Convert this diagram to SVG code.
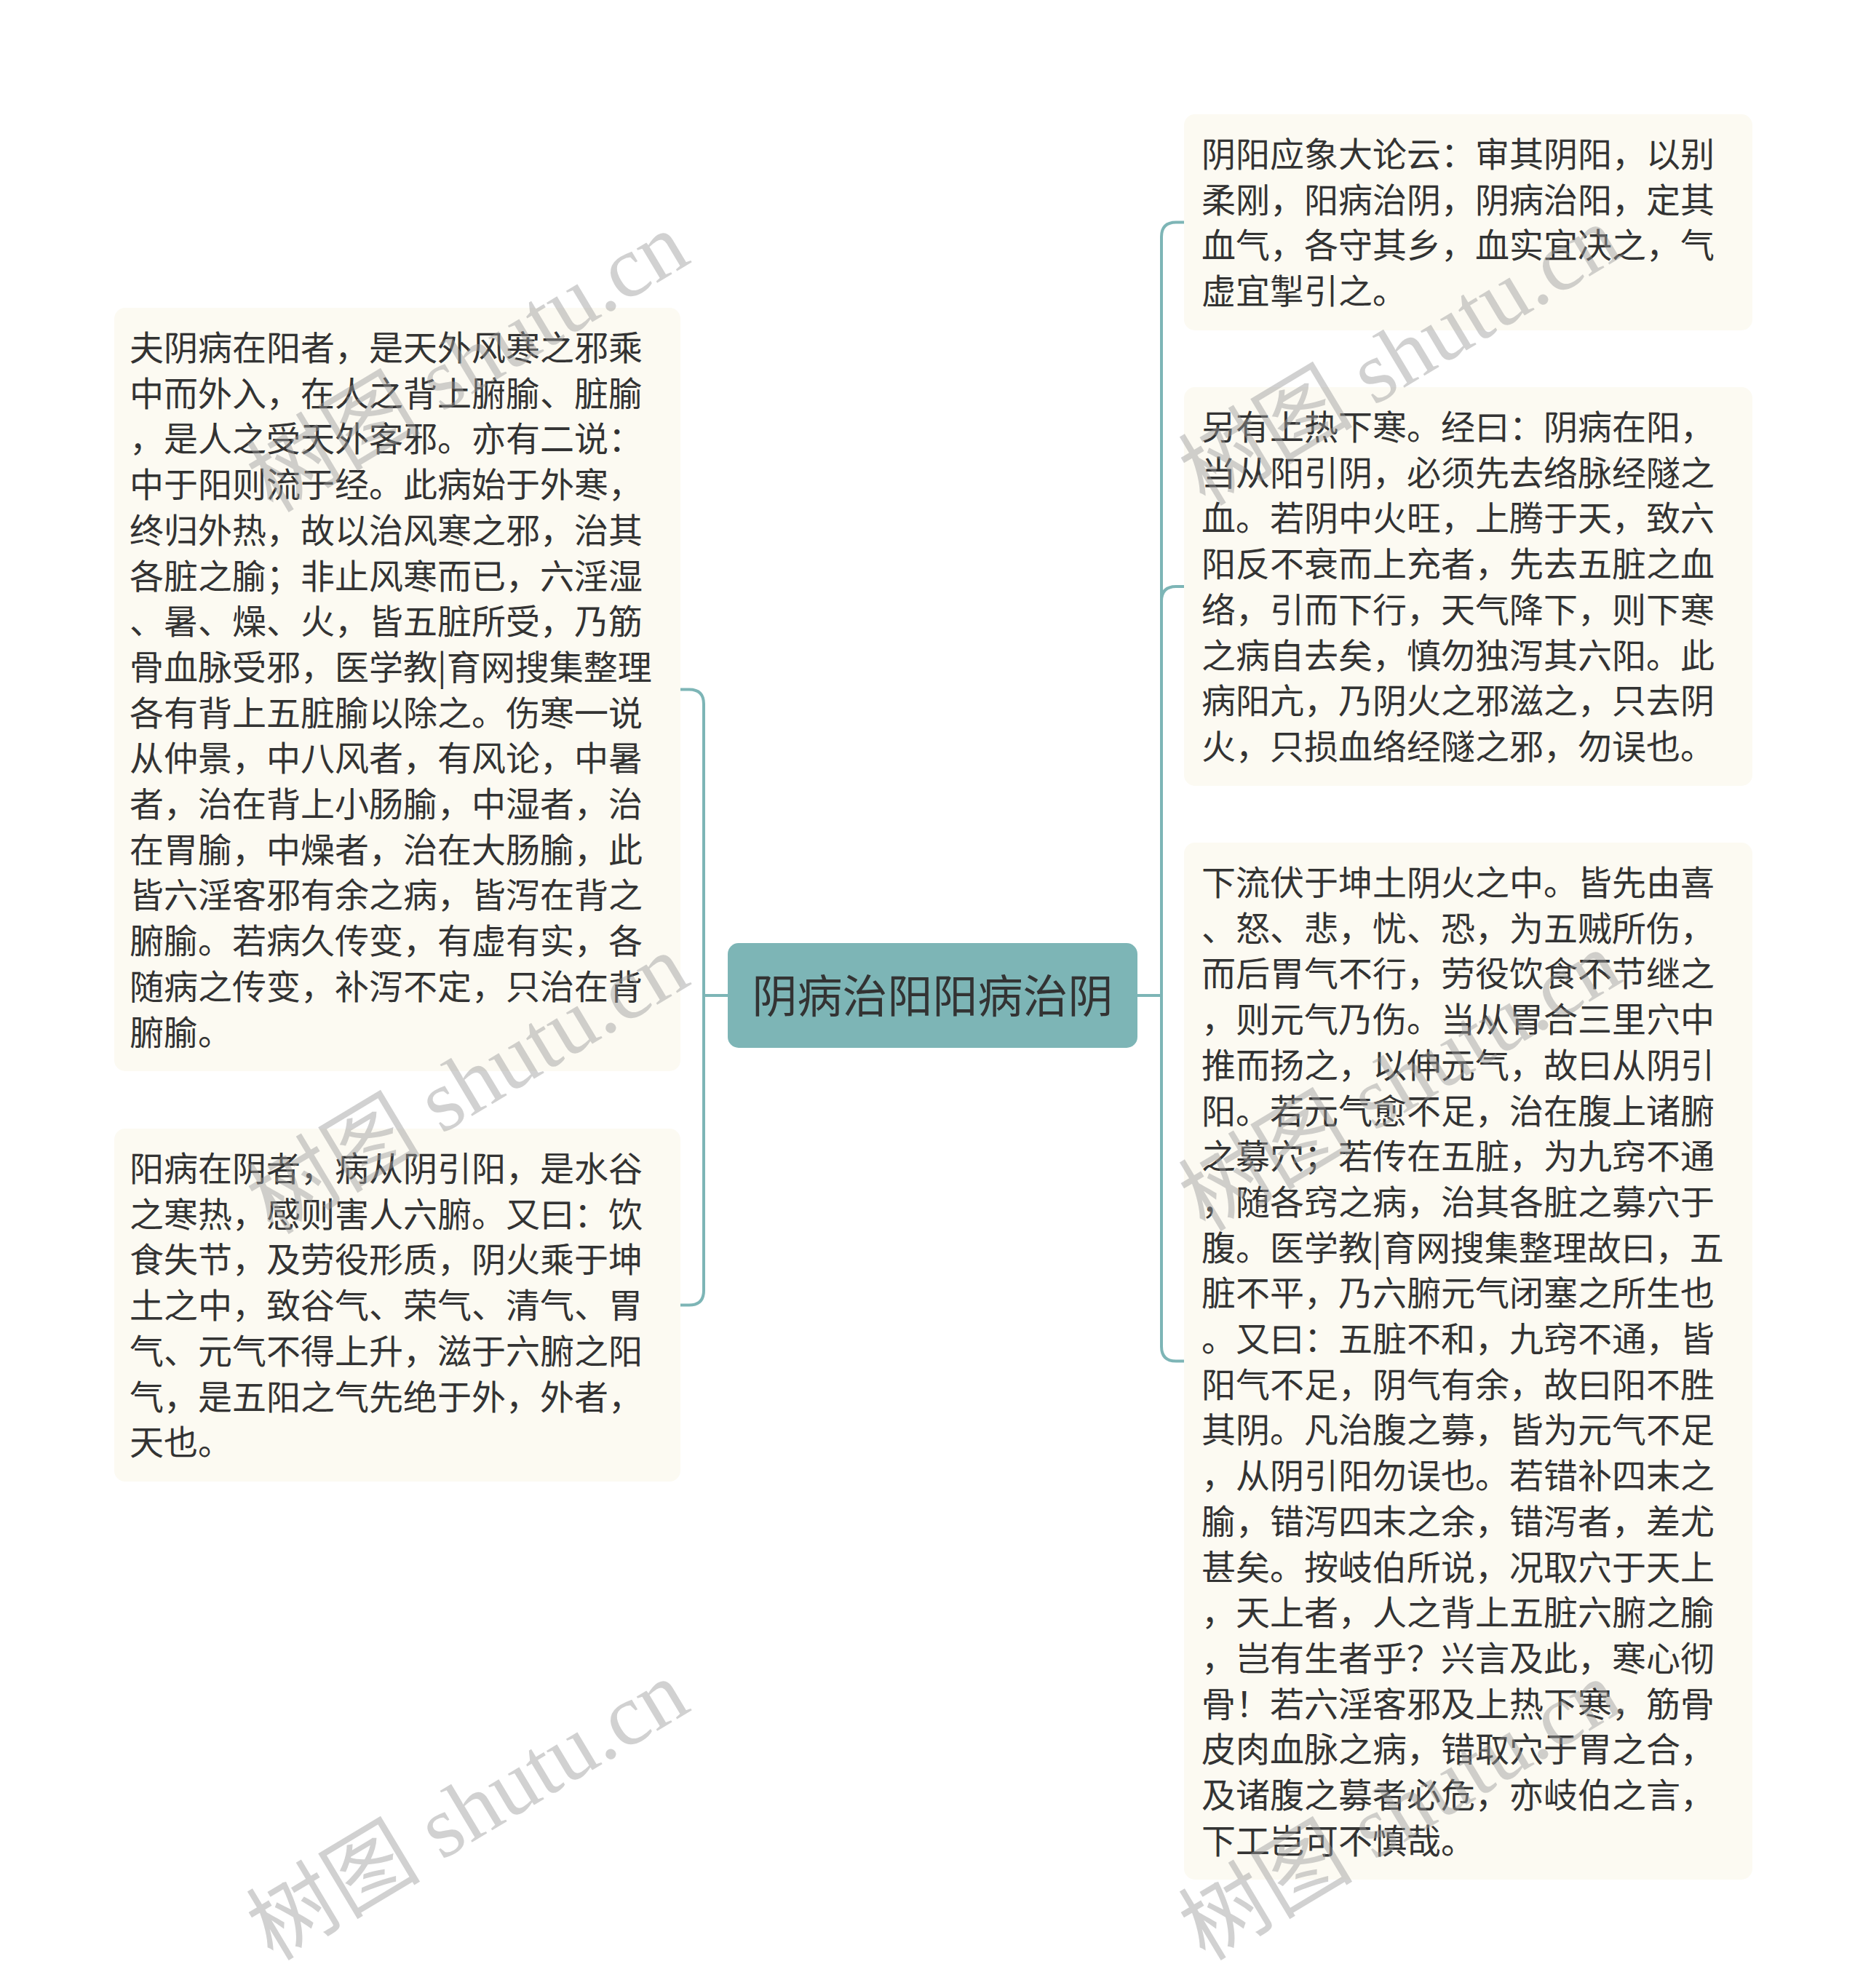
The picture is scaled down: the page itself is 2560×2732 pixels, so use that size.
<svg xmlns="http://www.w3.org/2000/svg" width="2560" height="2732" viewBox="0 0 2560 2732">
<style>
.bg{fill:#ffffff}
.box{fill:#fcfaf2}
.root{fill:#7db5b6}
.t{font-family:"Noto Sans CJK SC","Noto Sans",sans-serif;font-size:47px;fill:#333333}
.rt{font-family:"Noto Sans CJK SC","Noto Sans",sans-serif;font-size:62px;fill:#333333}
.c{fill:none;stroke:#7db5b6;stroke-width:4}
.wm{font-family:"Liberation Serif","Noto Sans CJK SC",serif;font-size:120px;fill:#9a9a9a;opacity:0.45}
</style>
<rect class="bg" x="0" y="0" width="2560" height="2732"/>
<g id="connectors">
<path class="c" d="M1563,1368 H1596 V325.5 Q1596,305.5 1616,305.5 H1629"/>
<path class="c" d="M1563,1368 H1596 V826 Q1596,806 1616,806 H1629"/>
<path class="c" d="M1563,1368 H1596 V1850.5 Q1596,1870.5 1616,1870.5 H1629"/>
<path class="c" d="M1000,1368 H967 V967.5 Q967,947.5 947,947.5 H933"/>
<path class="c" d="M1000,1368 H967 V1773.5 Q967,1793.5 947,1793.5 H933"/>
</g>
<g id="root">
<rect class="root" x="1000" y="1296" width="563" height="144" rx="15"/>
<text class="rt" x="1281.5" y="1392" text-anchor="middle">阴病治阳阳病治阴</text>
</g>
<g id="left1">
<rect class="box" x="157" y="423" width="778" height="1049" rx="15"/>
<text class="t" x="178" y="495">
<tspan x="178" y="495">夫阴病在阳者，是天外风寒之邪乘</tspan>
<tspan x="178" dy="62.7">中而外入，在人之背上腑腧、脏腧</tspan>
<tspan x="178" dy="62.7">，是人之受天外客邪。亦有二说：</tspan>
<tspan x="178" dy="62.7">中于阳则流于经。此病始于外寒，</tspan>
<tspan x="178" dy="62.7">终归外热，故以治风寒之邪，治其</tspan>
<tspan x="178" dy="62.7">各脏之腧；非止风寒而已，六淫湿</tspan>
<tspan x="178" dy="62.7">、暑、燥、火，皆五脏所受，乃筋</tspan>
<tspan x="178" dy="62.7">骨血脉受邪，医学教|育网搜集整理</tspan>
<tspan x="178" dy="62.7">各有背上五脏腧以除之。伤寒一说</tspan>
<tspan x="178" dy="62.7">从仲景，中八风者，有风论，中暑</tspan>
<tspan x="178" dy="62.7">者，治在背上小肠腧，中湿者，治</tspan>
<tspan x="178" dy="62.7">在胃腧，中燥者，治在大肠腧，此</tspan>
<tspan x="178" dy="62.7">皆六淫客邪有余之病，皆泻在背之</tspan>
<tspan x="178" dy="62.7">腑腧。若病久传变，有虚有实，各</tspan>
<tspan x="178" dy="62.7">随病之传变，补泻不定，只治在背</tspan>
<tspan x="178" dy="62.7">腑腧。</tspan>
</text>
</g>
<g id="left2">
<rect class="box" x="157" y="1551" width="778" height="485" rx="15"/>
<text class="t" x="178" y="1623">
<tspan x="178" y="1623">阳病在阴者，病从阴引阳，是水谷</tspan>
<tspan x="178" dy="62.7">之寒热，感则害人六腑。又曰：饮</tspan>
<tspan x="178" dy="62.7">食失节，及劳役形质，阴火乘于坤</tspan>
<tspan x="178" dy="62.7">土之中，致谷气、荣气、清气、胃</tspan>
<tspan x="178" dy="62.7">气、元气不得上升，滋于六腑之阳</tspan>
<tspan x="178" dy="62.7">气，是五阳之气先绝于外，外者，</tspan>
<tspan x="178" dy="62.7">天也。</tspan>
</text>
</g>
<g id="right1">
<rect class="box" x="1627" y="157" width="781" height="297" rx="15"/>
<text class="t" x="1651" y="229">
<tspan x="1651" y="229">阴阳应象大论云：审其阴阳，以别</tspan>
<tspan x="1651" dy="62.7">柔刚，阳病治阴，阴病治阳，定其</tspan>
<tspan x="1651" dy="62.7">血气，各守其乡，血实宜决之，气</tspan>
<tspan x="1651" dy="62.7">虚宜掣引之。</tspan>
</text>
</g>
<g id="right2">
<rect class="box" x="1627" y="532" width="781" height="548" rx="15"/>
<text class="t" x="1651" y="604">
<tspan x="1651" y="604">另有上热下寒。经曰：阴病在阳，</tspan>
<tspan x="1651" dy="62.7">当从阳引阴，必须先去络脉经隧之</tspan>
<tspan x="1651" dy="62.7">血。若阴中火旺，上腾于天，致六</tspan>
<tspan x="1651" dy="62.7">阳反不衰而上充者，先去五脏之血</tspan>
<tspan x="1651" dy="62.7">络，引而下行，天气降下，则下寒</tspan>
<tspan x="1651" dy="62.7">之病自去矣，慎勿独泻其六阳。此</tspan>
<tspan x="1651" dy="62.7">病阳亢，乃阴火之邪滋之，只去阴</tspan>
<tspan x="1651" dy="62.7">火，只损血络经隧之邪，勿误也。</tspan>
</text>
</g>
<g id="right3">
<rect class="box" x="1627" y="1158" width="781" height="1425" rx="15"/>
<text class="t" x="1651" y="1230">
<tspan x="1651" y="1230">下流伏于坤土阴火之中。皆先由喜</tspan>
<tspan x="1651" dy="62.7">、怒、悲，忧、恐，为五贼所伤，</tspan>
<tspan x="1651" dy="62.7">而后胃气不行，劳役饮食不节继之</tspan>
<tspan x="1651" dy="62.7">，则元气乃伤。当从胃合三里穴中</tspan>
<tspan x="1651" dy="62.7">推而扬之，以伸元气，故曰从阴引</tspan>
<tspan x="1651" dy="62.7">阳。若元气愈不足，治在腹上诸腑</tspan>
<tspan x="1651" dy="62.7">之募穴；若传在五脏，为九窍不通</tspan>
<tspan x="1651" dy="62.7">，随各窍之病，治其各脏之募穴于</tspan>
<tspan x="1651" dy="62.7">腹。医学教|育网搜集整理故曰，五</tspan>
<tspan x="1651" dy="62.7">脏不平，乃六腑元气闭塞之所生也</tspan>
<tspan x="1651" dy="62.7">。又曰：五脏不和，九窍不通，皆</tspan>
<tspan x="1651" dy="62.7">阳气不足，阴气有余，故曰阳不胜</tspan>
<tspan x="1651" dy="62.7">其阴。凡治腹之募，皆为元气不足</tspan>
<tspan x="1651" dy="62.7">，从阴引阳勿误也。若错补四末之</tspan>
<tspan x="1651" dy="62.7">腧，错泻四末之余，错泻者，差尤</tspan>
<tspan x="1651" dy="62.7">甚矣。按岐伯所说，况取穴于天上</tspan>
<tspan x="1651" dy="62.7">，天上者，人之背上五脏六腑之腧</tspan>
<tspan x="1651" dy="62.7">，岂有生者乎？兴言及此，寒心彻</tspan>
<tspan x="1651" dy="62.7">骨！若六淫客邪及上热下寒，筋骨</tspan>
<tspan x="1651" dy="62.7">皮肉血脉之病，错取穴于胃之合，</tspan>
<tspan x="1651" dy="62.7">及诸腹之募者必危，亦岐伯之言，</tspan>
<tspan x="1651" dy="62.7">下工岂可不慎哉。</tspan>
</text>
</g>
<g id="watermarks">
<text class="wm" transform="translate(375,706) rotate(-31)">树图 shutu.cn</text>
<text class="wm" transform="translate(375,1698) rotate(-31)">树图 shutu.cn</text>
<text class="wm" transform="translate(375,2696) rotate(-31)">树图 shutu.cn</text>
<text class="wm" transform="translate(1656,697) rotate(-31)">树图 shutu.cn</text>
<text class="wm" transform="translate(1656,1694) rotate(-31)">树图 shutu.cn</text>
<text class="wm" transform="translate(1656,2696) rotate(-31)">树图 shutu.cn</text>
</g>
</svg>
